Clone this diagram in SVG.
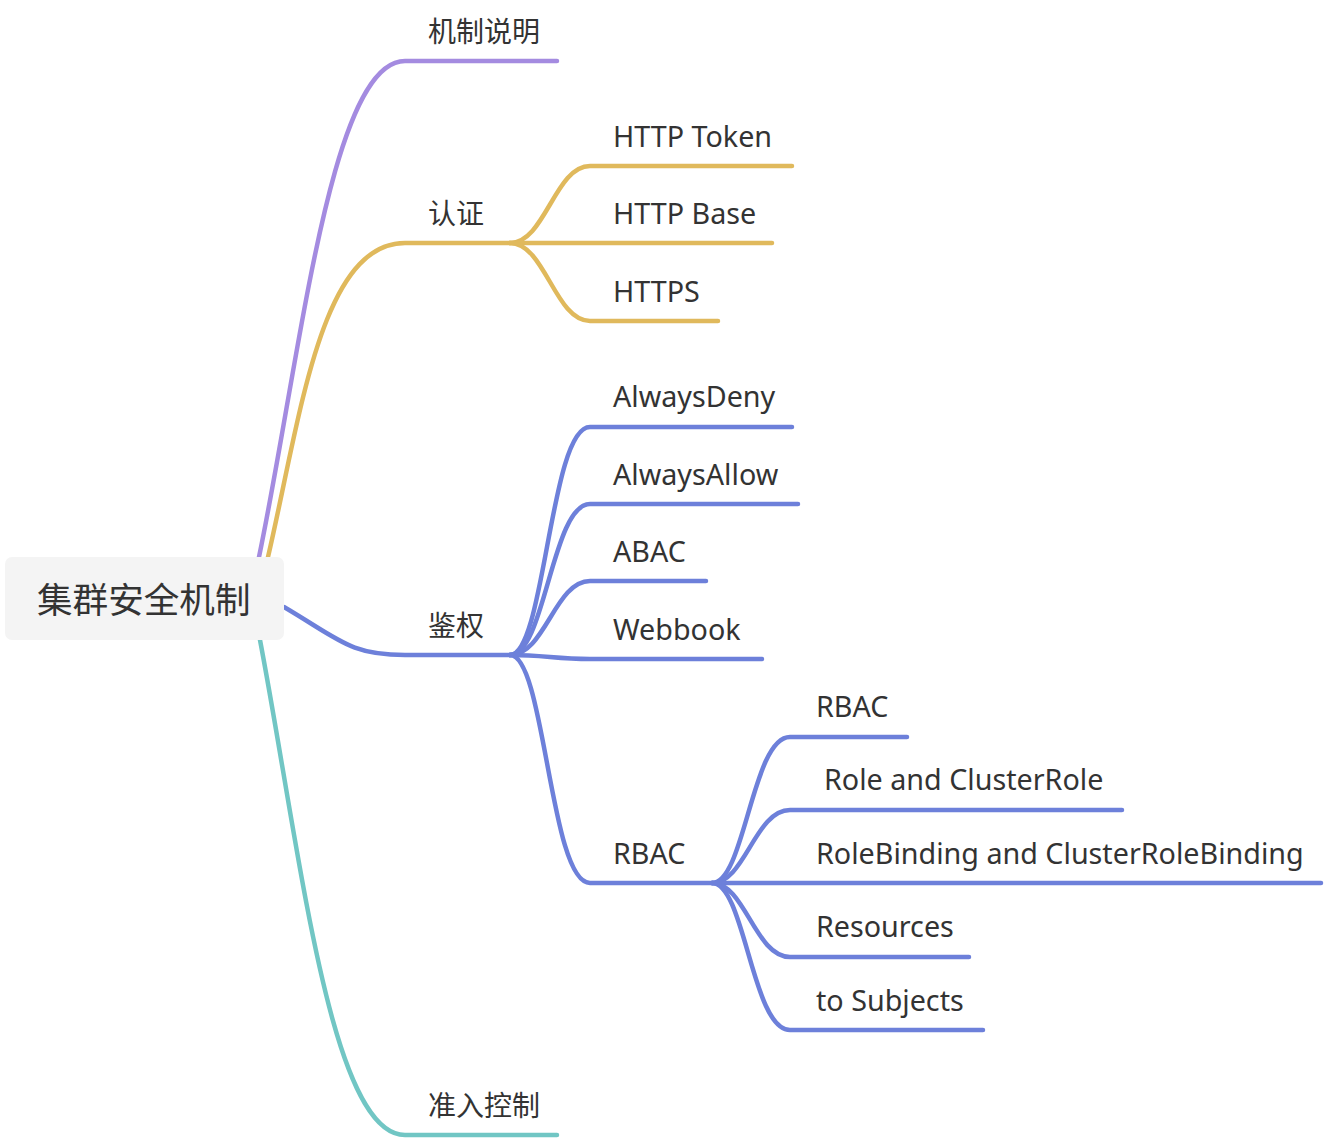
<svg xmlns="http://www.w3.org/2000/svg" width="1324" height="1140" viewBox="0 0 1324 1140">
<style>
.t{font-family:"Noto Sans","Noto Sans CJK SC",sans-serif;fill:#333333;font-size:28.7px}
.c{font-family:"Noto Sans CJK SC",sans-serif;fill:#333333;font-size:28px}
.e{fill:none;stroke-width:4.5;stroke-linecap:round;stroke-linejoin:round}
.p{stroke:#a48be0}.y{stroke:#e0b95c}.b{stroke:#6d80da}.g{stroke:#71c6c4}
</style>
<g id="connectors">
<path class="e p" d="M259 557 C300 360,330 61,405 61 L557 61"/>
<path class="e y" d="M268 557 C300 420,320 243,405 243 L510 243"/>
<path class="e b" d="M284 607 C340 640,350 655,405 655 L510 655"/>
<path class="e g" d="M260 640 C300 850,330 1135,405 1135 L557 1135"/>
<path class="e y" d="M510 243 C545 243,555 166,590 166 L792 166"/>
<path class="e y" d="M510 243 L772 243"/>
<path class="e y" d="M510 243 C545 243,555 321,590 321 L718 321"/>
<path class="e b" d="M510 655 C545 655,550 427,590 427 L792 427"/>
<path class="e b" d="M510 655 C545 655,552 504,590 504 L798 504"/>
<path class="e b" d="M510 655 C545 655,555 581,590 581 L706 581"/>
<path class="e b" d="M510 655 C545 655,555 659,590 659 L762 659"/>
<path class="e b" d="M510 655 C545 655,550 883,590 883 L712 883"/>
<path class="e b" d="M712 883 C745 883,752 737,790 737 L907 737"/>
<path class="e b" d="M712 883 C745 883,755 810,790 810 L1122 810"/>
<path class="e b" d="M712 883 L1321 883"/>
<path class="e b" d="M712 883 C745 883,755 957,790 957 L969 957"/>
<path class="e b" d="M712 883 C745 883,752 1030,790 1030 L983 1030"/>
</g>
<g id="root">
<rect x="5" y="557" width="279" height="83" rx="7" fill="#f4f4f4"/>
<text x="37" y="613" font-family="Noto Sans CJK SC,sans-serif" font-size="35.6" fill="#333333">集群安全机制</text>
</g>
<g id="n-jizhi"><text class="c" x="428" y="42">机制说明</text></g>
<g id="n-renzheng"><text class="c" x="428" y="224">认证</text></g>
<g id="n-token"><text class="t" x="613" y="147">HTTP Token</text></g>
<g id="n-base"><text class="t" x="613" y="224">HTTP Base</text></g>
<g id="n-https"><text class="t" x="613" y="302">HTTPS</text></g>
<g id="n-jianquan"><text class="c" x="428" y="636">鉴权</text></g>
<g id="n-deny"><text class="t" x="613" y="407">AlwaysDeny</text></g>
<g id="n-allow"><text class="t" x="613" y="485">AlwaysAllow</text></g>
<g id="n-abac"><text class="t" x="613" y="562">ABAC</text></g>
<g id="n-webbook"><text class="t" x="613" y="640">Webbook</text></g>
<g id="n-rbac"><text class="t" x="613" y="864">RBAC</text></g>
<g id="n-rbac2"><text class="t" x="816" y="717">RBAC</text></g>
<g id="n-role"><text class="t" x="824" y="790">Role and ClusterRole</text></g>
<g id="n-binding"><text class="t" x="816" y="864">RoleBinding and ClusterRoleBinding</text></g>
<g id="n-resources"><text class="t" x="816" y="937">Resources</text></g>
<g id="n-subjects"><text class="t" x="816" y="1011">to Subjects</text></g>
<g id="n-zhunru"><text class="c" x="428" y="1116">准入控制</text></g>
</svg>
